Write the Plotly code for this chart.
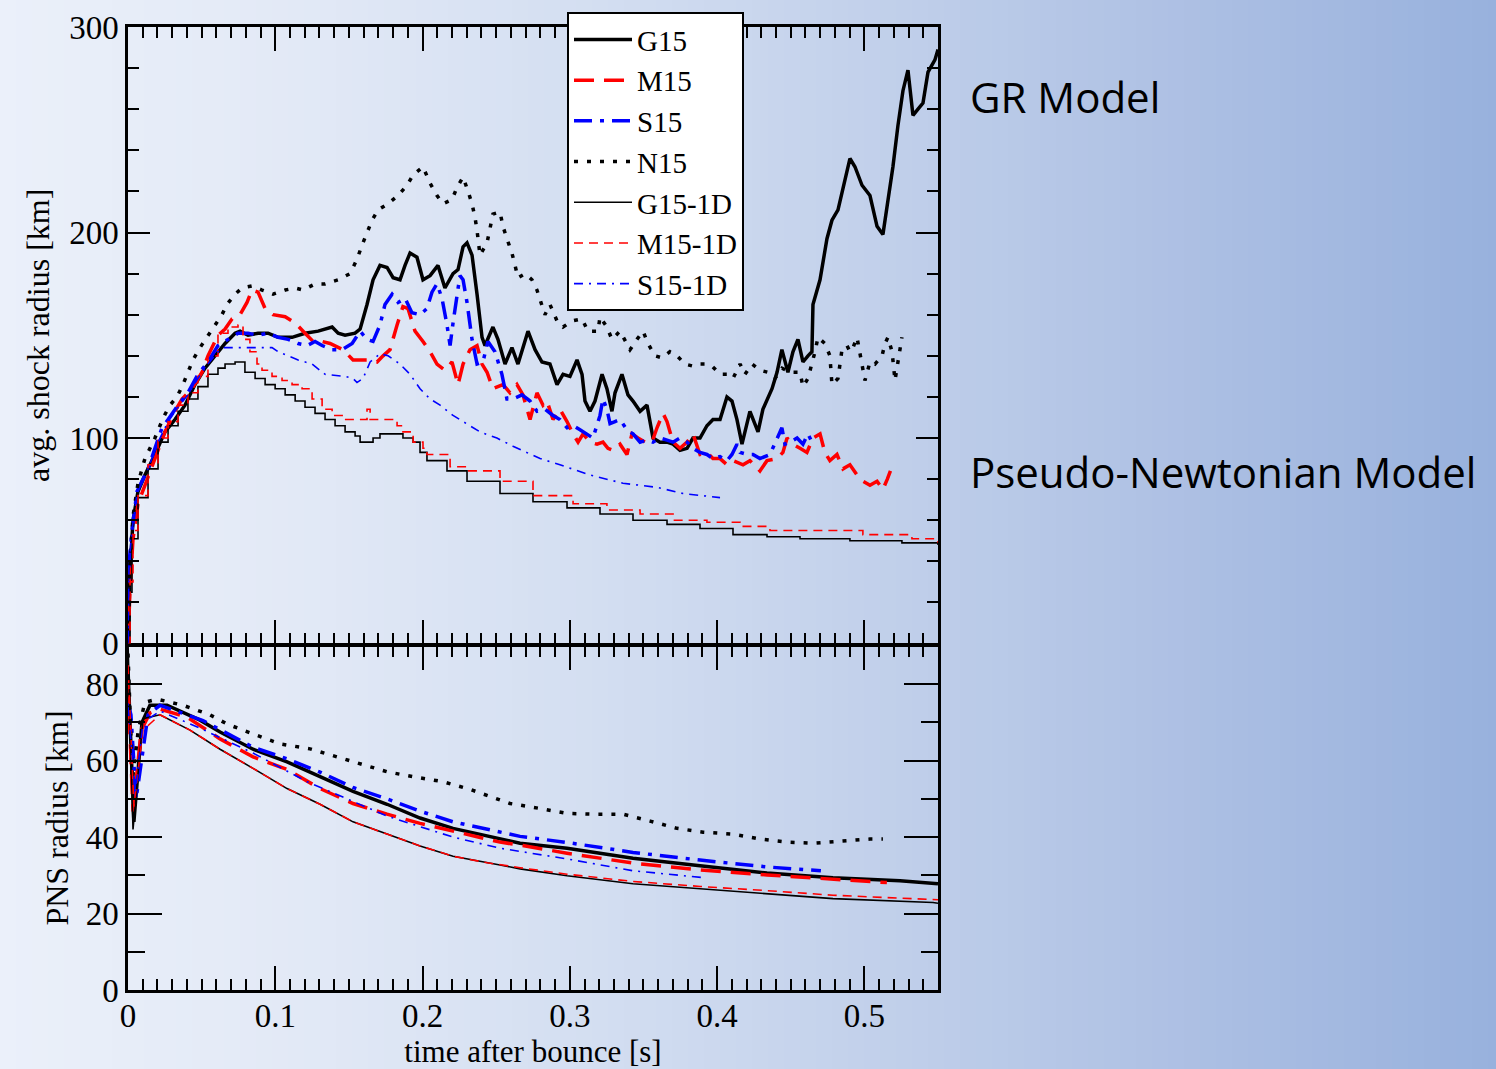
import plotly.graph_objects as go

# ---------------- data: average shock radius (top panel) ----------------
G15_t = [0.0000, 0.0014, 0.0034, 0.0068, 0.0115, 0.0183, 0.0251, 0.0319, 0.0387, 0.0455, 0.0523, 0.0591,
         0.0659, 0.0727, 0.0761, 0.0815, 0.0883, 0.0951, 0.1019, 0.1114, 0.1202, 0.1291, 0.1386, 0.1427,
         0.1474, 0.1542, 0.1576, 0.1623, 0.1664, 0.1711, 0.1759, 0.1800, 0.1847, 0.1881, 0.1915, 0.1962,
         0.2003, 0.2051, 0.2105, 0.2152, 0.2207, 0.2241, 0.2275, 0.2302, 0.2336, 0.2370, 0.2404, 0.2424,
         0.2478, 0.2512, 0.2560, 0.2607, 0.2648, 0.2716, 0.2764, 0.2811, 0.2865, 0.2913, 0.2954, 0.3001,
         0.3049, 0.3083, 0.3103, 0.3137, 0.3171, 0.3219, 0.3252, 0.3286, 0.3307, 0.3354, 0.3395, 0.3429,
         0.3477, 0.3524, 0.3565, 0.3612, 0.3660, 0.3701, 0.3748, 0.3796, 0.3836, 0.3884, 0.3931, 0.3972,
         0.4020, 0.4067, 0.4101, 0.4135, 0.4169, 0.4223, 0.4278, 0.4311, 0.4373, 0.4407, 0.4440, 0.4481,
         0.4515, 0.4549, 0.4583, 0.4617, 0.4644, 0.4651, 0.4699, 0.4746, 0.4780, 0.4821, 0.4868, 0.4902,
         0.4936, 0.4984, 0.5038, 0.5086, 0.5126, 0.5160, 0.5194, 0.5228, 0.5262, 0.5296, 0.5330, 0.5364,
         0.5398, 0.5432, 0.5479, 0.5500]
G15_r = [0, 35, 60, 74, 82, 92, 103, 109, 116, 126, 134, 140,
         146, 151, 152, 150, 151, 151, 149, 149, 151, 152, 154, 151,
         150, 151, 153, 165, 177, 184, 183, 178, 177, 184, 190, 188,
         177, 179, 184, 173, 180, 182, 193, 195, 189, 170, 149, 145,
         154, 148, 136, 144, 136, 152, 143, 137, 136, 126, 131, 130,
         138, 131, 118, 113, 118, 131, 124, 113, 122, 131, 121, 118,
         113, 116, 100, 98, 98, 97, 94, 95, 100, 100, 106, 109,
         109, 120, 118, 109, 97, 113, 103, 114, 124, 132, 143, 132,
         142, 148, 137, 140, 142, 165, 177, 197, 206, 211, 226, 236,
         232, 223, 218, 203, 199, 215, 232, 252, 269, 279, 257, 260,
         263, 278, 284, 289]

M15_t = [0.0000, 0.0014, 0.0034, 0.0068, 0.0115, 0.0183, 0.0251, 0.0319, 0.0367, 0.0435, 0.0503, 0.0543,
         0.0611, 0.0659, 0.0707, 0.0761, 0.0808, 0.0842, 0.0883, 0.0931, 0.0985, 0.1067, 0.1135, 0.1202,
         0.1257, 0.1318, 0.1372, 0.1460, 0.1528, 0.1623, 0.1691, 0.1732, 0.1779, 0.1827, 0.1867, 0.1901,
         0.1949, 0.2003, 0.2051, 0.2098, 0.2152, 0.2200, 0.2241, 0.2275, 0.2322, 0.2370, 0.2404, 0.2438,
         0.2478, 0.2546, 0.2594, 0.2641, 0.2682, 0.2730, 0.2777, 0.2818, 0.2845, 0.2886, 0.2933, 0.2981,
         0.3022, 0.3056, 0.3090, 0.3137, 0.3185, 0.3225, 0.3259, 0.3293, 0.3341, 0.3388, 0.3422, 0.3463,
         0.3510, 0.3558, 0.3592, 0.3633, 0.3660, 0.3701, 0.3748, 0.3796, 0.3836, 0.3884, 0.3931, 0.3972,
         0.4020, 0.4067, 0.4108, 0.4176, 0.4223, 0.4291, 0.4339, 0.4407, 0.4447, 0.4475, 0.4515, 0.4563,
         0.4610, 0.4651, 0.4699, 0.4732, 0.4766, 0.4814, 0.4855, 0.4902, 0.4950, 0.4990, 0.5038, 0.5086,
         0.5126, 0.5156, 0.5177]
M15_r = [0, 27, 51, 68, 77, 90, 103, 113, 119, 124, 132, 140,
         150, 153, 158, 160, 166, 172, 171, 163, 160, 159, 156, 151,
         147, 147, 146, 143, 138, 138, 137, 140, 143, 155, 164, 163,
         152, 147, 142, 136, 133, 137, 126, 136, 143, 145, 136, 132,
         124, 126, 122, 126, 121, 109, 122, 116, 118, 109, 114, 108,
         102, 98, 102, 98, 97, 98, 95, 94, 97, 92, 102, 100,
         98, 98, 105, 112, 108, 98, 95, 98, 102, 92, 93, 90,
         90, 87, 89, 87, 89, 84, 89, 90, 93, 100, 97, 95,
         93, 100, 102, 93, 89, 92, 85, 87, 82, 79, 77, 79,
         75, 80, 84]

S15_t = [0.0000, 0.0007, 0.0027, 0.0061, 0.0102, 0.0136, 0.0183, 0.0231, 0.0272, 0.0340, 0.0407, 0.0475,
         0.0543, 0.0611, 0.0679, 0.0747, 0.0815, 0.0883, 0.0951, 0.1019, 0.1087, 0.1155, 0.1216, 0.1270,
         0.1318, 0.1386, 0.1454, 0.1522, 0.1576, 0.1623, 0.1664, 0.1711, 0.1745, 0.1793, 0.1834, 0.1881,
         0.1928, 0.1983, 0.2030, 0.2064, 0.2098, 0.2132, 0.2166, 0.2187, 0.2207, 0.2234, 0.2254, 0.2275,
         0.2302, 0.2336, 0.2370, 0.2410, 0.2444, 0.2492, 0.2539, 0.2573, 0.2614, 0.2675, 0.2730, 0.2777,
         0.2831, 0.2886, 0.2933, 0.2981, 0.3022, 0.3069, 0.3117, 0.3157, 0.3205, 0.3225, 0.3252, 0.3273,
         0.3307, 0.3341, 0.3388, 0.3429, 0.3477, 0.3524, 0.3565, 0.3612, 0.3660, 0.3701, 0.3748, 0.3796,
         0.3836, 0.3884, 0.3931, 0.3972, 0.4020, 0.4067, 0.4101, 0.4135, 0.4156, 0.4203, 0.4244, 0.4291,
         0.4359, 0.4407, 0.4440, 0.4461, 0.4495, 0.4543, 0.4583, 0.4617, 0.4644]
S15_r = [0, 39, 55, 74, 80, 85, 95, 105, 109, 116, 122, 131,
         137, 145, 148, 151, 151, 150, 151, 149, 148, 146, 145, 147,
         145, 143, 143, 146, 152, 148, 147, 155, 165, 170, 166, 168,
         161, 160, 163, 171, 175, 168, 155, 145, 156, 168, 179, 177,
         166, 148, 136, 137, 147, 142, 131, 119, 119, 121, 118, 113,
         114, 111, 109, 105, 106, 104, 102, 100, 111, 119, 114, 107,
         108, 109, 104, 102, 98, 99, 98, 100, 99, 98, 100, 98,
         95, 93, 92, 90, 91, 89, 92, 97, 93, 92, 92, 90,
         92, 100, 105, 97, 98, 100, 97, 102, 98]

N15_t = [0.0000, 0.0014, 0.0034, 0.0068, 0.0115, 0.0183, 0.0240, 0.0285, 0.0333, 0.0373, 0.0441, 0.0489,
         0.0536, 0.0591, 0.0638, 0.0672, 0.0727, 0.0774, 0.0842, 0.0910, 0.0985, 0.1067, 0.1135, 0.1188,
         0.1270, 0.1338, 0.1427, 0.1508, 0.1555, 0.1590, 0.1623, 0.1657, 0.1698, 0.1766, 0.1834, 0.1895,
         0.1936, 0.2003, 0.2051, 0.2098, 0.2139, 0.2200, 0.2234, 0.2275, 0.2309, 0.2336, 0.2357, 0.2370,
         0.2390, 0.2438, 0.2458, 0.2478, 0.2526, 0.2546, 0.2573, 0.2607, 0.2628, 0.2648, 0.2696, 0.2743,
         0.2777, 0.2831, 0.2865, 0.2913, 0.2954, 0.3015, 0.3083, 0.3123, 0.3191, 0.3205, 0.3252, 0.3286,
         0.3341, 0.3409, 0.3456, 0.3497, 0.3531, 0.3578, 0.3626, 0.3680, 0.3728, 0.3782, 0.3836, 0.3870,
         0.3918, 0.3966, 0.4020, 0.4067, 0.4108, 0.4156, 0.4189, 0.4237, 0.4291, 0.4346, 0.4393, 0.4441,
         0.4495, 0.4563, 0.4583, 0.4617, 0.4665, 0.4685, 0.4732, 0.4766, 0.4780, 0.4821, 0.4848, 0.4882,
         0.4902, 0.4923, 0.4950, 0.4984, 0.5004, 0.5038, 0.5072, 0.5120, 0.5140, 0.5160, 0.5188, 0.5208,
         0.5228, 0.5255]
N15_r = [0, 40, 62, 78, 90, 100, 110, 116, 120, 126, 138, 144,
         149, 155, 160, 165, 170, 173, 174, 172, 170, 172, 173, 172,
         175, 175, 177, 180, 187, 194, 200, 206, 211, 214, 218, 223,
         228, 232, 224, 218, 214, 216, 222, 227, 220, 214, 207, 201,
         189, 195, 202, 209, 210, 203, 197, 190, 184, 178, 180, 177,
         172, 160, 165, 157, 154, 157, 158, 152, 152, 159, 154, 148,
         152, 143, 148, 152, 146, 140, 139, 142, 140, 136, 135, 136,
         136, 135, 131, 131, 129, 136, 131, 136, 133, 132, 129, 134,
         132, 132, 125, 129, 142, 149, 146, 140, 126, 129, 143, 145,
         142, 144, 149, 136, 128, 137, 136, 140, 146, 149, 142, 128,
         136, 149]

G15_1D_t = [0.0000, 0.0014, 0.0027, 0.0068, 0.0136, 0.0204, 0.0272, 0.0340, 0.0407, 0.0475, 0.0543, 0.0611,
            0.0659, 0.0727, 0.0794, 0.0863, 0.0931, 0.0999, 0.1067, 0.1135, 0.1202, 0.1270, 0.1338, 0.1406,
            0.1474, 0.1542, 0.1576, 0.1664, 0.1711, 0.1813, 0.1867, 0.1936, 0.1983, 0.2030, 0.2166, 0.2302,
            0.2526, 0.2750, 0.2981, 0.3205, 0.3429, 0.3660, 0.3884, 0.4108, 0.4339, 0.4563, 0.4902, 0.5255,
            0.5500]
G15_1D_r = [0, 25, 51, 71, 85, 98, 106, 113, 119, 125, 131, 134,
            136, 137, 132, 129, 126, 124, 121, 118, 115, 112, 109, 106,
            103, 101, 98, 100, 102, 102, 100, 98, 93, 89, 84, 79,
            73, 69, 66, 63, 60, 58, 56, 53, 52, 51, 50, 49,
            48]

M15_1D_t = [0.0000, 0.0014, 0.0034, 0.0068, 0.0136, 0.0204, 0.0272, 0.0340, 0.0407, 0.0475, 0.0543, 0.0611,
            0.0679, 0.0747, 0.0781, 0.0828, 0.0876, 0.0910, 0.0978, 0.1046, 0.1114, 0.1182, 0.1250, 0.1318,
            0.1386, 0.1454, 0.1596, 0.1623, 0.1644, 0.1779, 0.1827, 0.1867, 0.1936, 0.2003, 0.2030, 0.2187,
            0.2302, 0.2526, 0.2750, 0.3022, 0.3252, 0.3477, 0.3701, 0.3931, 0.4156, 0.4359, 0.4563, 0.4990,
            0.5255, 0.5323, 0.5500]
M15_1D_r = [0, 30, 55, 72, 87, 100, 108, 116, 122, 130, 140, 151,
            154, 155, 148, 142, 136, 133, 130, 128, 126, 124, 119, 114,
            111, 109, 109, 114, 109, 109, 106, 103, 98, 95, 92, 86,
            84, 79, 72, 68, 65, 63, 60, 59, 57, 55, 55, 53,
            53, 51, 49]

S15_1D_t = [0.0000, 0.0007, 0.0027, 0.0061, 0.0136, 0.0204, 0.0272, 0.0340, 0.0407, 0.0475, 0.0543, 0.0611,
            0.0650, 0.0978, 0.1019, 0.1155, 0.1250, 0.1338, 0.1474, 0.1528, 0.1555, 0.1596, 0.1644, 0.1711,
            0.1766, 0.1847, 0.1915, 0.1983, 0.2051, 0.2119, 0.2207, 0.2302, 0.2390, 0.2505, 0.2614, 0.2798,
            0.2933, 0.3137, 0.3361, 0.3592, 0.3769, 0.4020]
S15_1D_r = [0, 39, 55, 73, 85, 98, 108, 115, 121, 129, 136, 142,
            144, 144, 142, 138, 136, 131, 130, 129, 127, 129, 137, 141,
            140, 136, 131, 124, 119, 116, 111, 107, 103, 100, 96, 90,
            87, 82, 78, 76, 73, 71]

# ---------------- data: PNS radius (bottom panel) ----------------
G15_pns_t = [0.0000, 0.0040, 0.0095, 0.0149, 0.0265, 0.0353, 0.0489, 0.0625, 0.0849, 0.1080, 0.1304, 0.1528,
             0.1759, 0.1983, 0.2207, 0.2438, 0.2526, 0.2662, 0.2981, 0.3429, 0.3884, 0.4339, 0.4787, 0.5242,
             0.5500]
G15_pns_r = [84, 44, 70, 74.5, 74.5, 73, 70.6, 67.5, 63, 59.7, 55.8, 52,
             48.6, 45, 42.3, 40.3, 39.7, 38.4, 37.1, 34.5, 32.5, 30.6, 29.4, 28.6,
             27.8]

M15_pns_t = [0.0000, 0.0034, 0.0090, 0.0149, 0.0217, 0.0401, 0.0625, 0.0849, 0.1080, 0.1304, 0.1528, 0.1759,
             0.1983, 0.2207, 0.2438, 0.2526, 0.2662, 0.2981, 0.3429, 0.3884, 0.4339, 0.4787, 0.5153]
M15_pns_r = [80, 46.7, 68, 72.5, 73.5, 71.4, 65.7, 61, 57.7, 52.7, 48.8, 46,
             43.6, 41.6, 39.5, 38.7, 37.9, 35.8, 33.2, 31.4, 30.1, 29.1, 28.1]

S15_pns_t = [0.0000, 0.0020, 0.0055, 0.0090, 0.0136, 0.0217, 0.0509, 0.0849, 0.1080, 0.1304, 0.1528, 0.1759,
             0.1983, 0.2207, 0.2438, 0.2662, 0.2981, 0.3429, 0.3884, 0.4339, 0.4705]
S15_pns_r = [75, 72, 50, 60, 72, 74.5, 70.5, 63.5, 60.5, 57, 53, 50,
             46.8, 44, 42, 40.2, 38.6, 36, 34, 32.2, 31.2]

N15_pns_t = [0.0000, 0.0030, 0.0070, 0.0115, 0.0197, 0.0374, 0.0557, 0.0672, 0.0849, 0.1032, 0.1236, 0.1419,
             0.1576, 0.1759, 0.1936, 0.2139, 0.2322, 0.2505, 0.2594, 0.2798, 0.2981, 0.3185, 0.3361, 0.3545,
             0.3728, 0.3905, 0.4108, 0.4291, 0.4475, 0.4651, 0.4855, 0.5038, 0.5126]
N15_pns_r = [88, 55, 68, 75.3, 76.1, 74.5, 72, 69.6, 67, 64.4, 63.1, 61,
             59, 57.1, 55.8, 54.5, 52.5, 49.9, 48.8, 47.5, 46.2, 46, 46, 44.2,
             42.3, 41.3, 40.8, 39.5, 38.7, 38.4, 39, 39.5, 39.5]

G15_1D_pns_t = [0.0000, 0.0034, 0.0102, 0.0217, 0.0421, 0.0625, 0.0849, 0.1080, 0.1304, 0.1528, 0.1759, 0.1983,
                0.2207, 0.2438, 0.2526, 0.2662, 0.2981, 0.3429, 0.3884, 0.4339, 0.4787, 0.5466, 0.5500]
G15_1D_pns_r = [91, 42, 71, 72, 68, 63, 58, 52.7, 48.6, 44, 40.8, 37.7,
                35, 33.2, 32.7, 31.7, 29.9, 27.8, 26.5, 25.2, 23.9, 22.9, 22.7]

M15_1D_pns_t = [0.0000, 0.0040, 0.0102, 0.0217, 0.0421, 0.0625, 0.0849, 0.1080, 0.1304, 0.1528, 0.1759, 0.1983,
                0.2207, 0.2438, 0.2662, 0.2981, 0.3429, 0.3884, 0.4339, 0.4787, 0.5500]
M15_1D_pns_r = [85, 48, 68, 72, 68, 63, 58, 52.7, 48.6, 44, 40.8, 37.7,
                35, 33.3, 32, 30.3, 28.4, 27.1, 26, 24.8, 23.6]

S15_1D_pns_t = [0.0000, 0.0050, 0.0102, 0.0217, 0.0489, 0.0849, 0.1216, 0.1759, 0.2207, 0.2526, 0.2981, 0.3429,
                0.3905]
S15_1D_pns_r = [74, 52, 70, 73, 68.5, 62, 54.5, 45.5, 40, 37.1, 34.3, 31.2,
                29.4]

# ---------------- figure ----------------
W, H = 1496, 1069
ML, MR, MT, MB = 128, 558, 22, 79
PW, PH = W - ML - MR, H - MT - MB
split = (990 - 643) / PH
AXLW = 2.5
half = (AXLW / 2) / PH

SERIF = "Liberation Serif"
SANS = "Open Sans"
RED, BLUE, BLACK = "#ff0000", "#0000ff", "#000000"

series = [
    ("G15", G15_t, G15_r, G15_pns_t, G15_pns_r, BLACK, 3.5, "solid", "linear"),
    ("M15", M15_t, M15_r, M15_pns_t, M15_pns_r, RED, 3.5, "20px,10px", "linear"),
    ("S15", S15_t, S15_r, S15_pns_t, S15_pns_r, BLUE, 3.5, "18px,8px,4px,8px", "linear"),
    ("N15", N15_t, N15_r, N15_pns_t, N15_pns_r, BLACK, 3.5, "4px,9px", "linear"),
    ("G15-1D", G15_1D_t, G15_1D_r, G15_1D_pns_t, G15_1D_pns_r, BLACK, 1.6, "solid", "hv"),
    ("M15-1D", M15_1D_t, M15_1D_r, M15_1D_pns_t, M15_1D_pns_r, RED, 1.6, "9px,6px", "hv"),
    ("S15-1D", S15_1D_t, S15_1D_r, S15_1D_pns_t, S15_1D_pns_r, BLUE, 1.6, "9px,6px,2px,6px", "linear"),
]

fig = go.Figure()
for name, tt, rr, pt, pr, col, w, dash, shape in series:
    fig.add_trace(go.Scatter(x=tt, y=rr, mode="lines", name=name, xaxis="x2", yaxis="y2",
                             line=dict(color=col, width=w, dash=dash, shape=shape), showlegend=True))
for name, tt, rr, pt, pr, col, w, dash, shape in series:
    fig.add_trace(go.Scatter(x=pt, y=pr, mode="lines", name=name, xaxis="x", yaxis="y",
                             line=dict(color=col, width=w, dash=dash), showlegend=False))

# background gradient (horizontal) drawn as thin strips behind everything
stops = [(0, (235, 240, 250)), (300, (226, 233, 246)), (600, (211, 222, 241)),
         (900, (192, 207, 234)), (1200, (172, 191, 227)), (1496, (152, 177, 221))]


def grad(p):
    for (a, ca), (b, cb) in zip(stops[:-1], stops[1:]):
        if a <= p <= b:
            f = (p - a) / (b - a)
            return "rgb(%d,%d,%d)" % tuple(round(ca[i] + f * (cb[i] - ca[i])) for i in range(3))
    return "rgb(%d,%d,%d)" % stops[-1][1]


shapes = []
step = 16
for p in range(0, W, step):
    shapes.append(dict(type="rect", xref="paper", yref="paper", layer="below",
                       x0=(p - ML) / PW, x1=(p + step + 1 - ML) / PW,
                       y0=-(MB + 20) / PH, y1=1 + (MT + 20) / PH,
                       fillcolor=grad(p + step / 2), line=dict(width=0)))

axis_common = dict(showline=True, linecolor=BLACK, linewidth=AXLW, mirror="ticks", ticks="inside",
                   tickcolor=BLACK, tickwidth=2, showgrid=False, zeroline=False, automargin=False,
                   tickfont=dict(family=SERIF, size=33, color=BLACK))

xcommon = dict(axis_common, range=[0, 0.55], tick0=0, dtick=0.1, ticklen=24,
               minor=dict(ticks="inside", ticklen=11, tickwidth=1.8, dtick=0.01, tickcolor=BLACK, showgrid=False))

fig.update_layout(
    width=W, height=H, margin=dict(l=ML, r=MR, t=MT, b=MB, pad=0),
    template="none",
    paper_bgcolor="rgb(235,240,250)", plot_bgcolor="rgba(0,0,0,0)",
    font=dict(family=SERIF, size=32, color=BLACK),
    shapes=shapes,
    xaxis=dict(xcommon, anchor="y", domain=[0, 1], ticklabelstandoff=-5,
               title=dict(text="time after bounce [s]", font=dict(family=SERIF, size=31), standoff=2)),
    xaxis2=dict(xcommon, anchor="y2", domain=[0, 1], matches="x", showticklabels=False),
    yaxis=dict(axis_common, domain=[0, split - half], range=[0, 90], tick0=0, dtick=20, ticklen=34,
               minor=dict(ticks="inside", ticklen=17, tickwidth=1.8, dtick=10, tickcolor=BLACK, showgrid=False),
               title=dict(text="PNS radius [km]", font=dict(family=SERIF, size=32), standoff=8)),
    yaxis2=dict(axis_common, domain=[split + half, 1], range=[0, 300], tick0=0, dtick=100, ticklen=22,
                minor=dict(ticks="inside", ticklen=11, tickwidth=1.8, dtick=20, tickcolor=BLACK, showgrid=False),
                title=dict(text="avg. shock radius [km]", font=dict(family=SERIF, size=32), standoff=10)),
    legend=dict(x=(567 - ML) / PW, y=(990 - 7) / PH, xanchor="left", yanchor="top",
                bgcolor="white", bordercolor=BLACK, borderwidth=2,
                font=dict(family=SERIF, size=29, color=BLACK), itemwidth=58, tracegroupgap=0),
    annotations=[
        dict(text="GR Model", xref="paper", yref="paper", x=(968 - ML) / PW, y=(990 - 92) / PH,
             xanchor="left", yanchor="middle", showarrow=False,
             font=dict(family=SANS, size=42, color=BLACK)),
        dict(text="Pseudo-Newtonian Model", xref="paper", yref="paper", x=(968 - ML) / PW, y=(990 - 469) / PH,
             xanchor="left", yanchor="middle", showarrow=False,
             font=dict(family=SANS, size=42, color=BLACK)),
    ],
)

fig.write_html("out.html", config={"displayModeBar": False},
               post_script="document.body.style.margin='0px';document.body.style.overflow='hidden';")
